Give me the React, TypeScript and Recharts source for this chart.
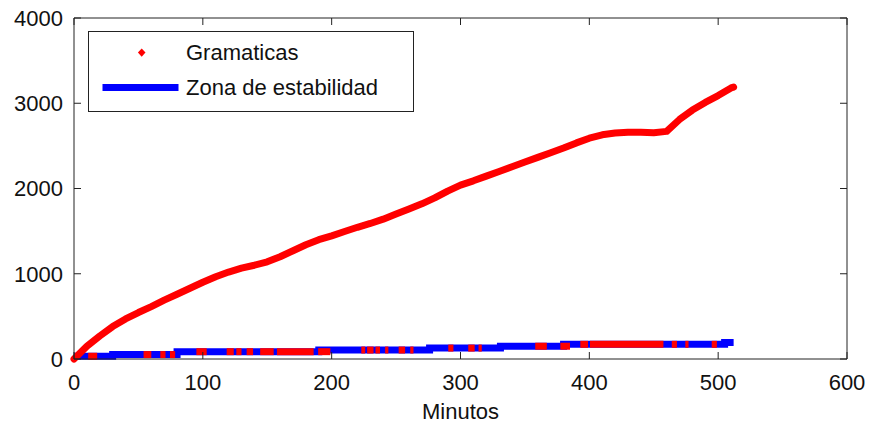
import React from 'react';
import { ComposedChart, Line, XAxis, YAxis, Legend } from 'recharts';

document.body.style.margin = '0';

const gramMinutes = [0, 10, 20, 30, 40, 50, 60, 70, 80, 90, 100, 110, 120, 130, 140, 150, 160, 170, 180, 190, 200, 210, 220, 230, 240, 250, 260, 270, 280, 290, 300, 310, 320, 330, 340, 350, 360, 370, 380, 390, 400, 410, 420, 430, 440, 450, 460, 470, 480, 490, 500, 510, 512];
const gramValues = [0, 150, 270, 380, 470, 545, 615, 690, 760, 830, 900, 965, 1020, 1065, 1100, 1140, 1200, 1270, 1340, 1400, 1445, 1495, 1545, 1590, 1640, 1700, 1760, 1820, 1890, 1970, 2040, 2090, 2145, 2200, 2255, 2310, 2365, 2420, 2475, 2535, 2590, 2630, 2650, 2660, 2660, 2655, 2670, 2810, 2920, 3010, 3090, 3180, 3190];

// zona de estabilidad: step changes (minute, value)
const zonaMinutes = [0, 30, 80, 190, 276, 331, 380, 505, 512];
const zonaValues = [32, 52, 86, 105, 128, 150, 172, 195, 195];

// red markers sitting on the stability band, [start, end] minutes
const gramLowRuns = [
  [11, 18], [54, 60], [67, 71], [74.5, 78.5], [95, 103], [118.5, 124], [126, 130], [134, 139],
  [144.5, 155], [157.5, 186], [189.5, 199], [223, 226], [227.5, 232.5], [234, 237.5], [241.5, 244],
  [252, 257], [261, 263.5], [290.5, 294.5], [306, 311], [314, 316.5], [358, 367], [377.5, 385],
  [393, 399], [400.5, 457.5], [464, 468], [474.5, 477], [495, 499],
];

const xTicks = [0, 100, 200, 300, 400, 500, 600];
const yTicks = [0, 1000, 2000, 3000, 4000];

const gramData = gramMinutes.map((t, i) => ({ t, v: gramValues[i] }));
const zonaData = zonaMinutes.map((t, i) => ({ t, v: zonaValues[i] }));

const zonaAt = (t: number) => {
  let v = zonaValues[0];
  zonaMinutes.forEach((m, i) => { if (m <= t) v = zonaValues[i]; });
  return v;
};

const font = '"Liberation Sans", Arial, sans-serif';
const tickStyle = { fill: '#111', fontSize: 22, fontFamily: font };
const blank = () => '';

function LegendBox() {
  return (
    <div style={{ position: 'relative', width: 326, height: 81, border: '1.5px solid #222', background: '#fff', boxSizing: 'border-box', fontFamily: font, fontSize: 22, color: '#111' }}>
      <svg width={326} height={81} style={{ position: 'absolute', left: -1.5, top: -1.5 }}>
        <path d="M53.7 17.5 L57.5 21.6 L53.7 25.7 L49.9 21.6 Z" fill="#ff0000" />
        <line x1={14.5} x2={90.5} y1={56.6} y2={56.6} stroke="#0000ff" strokeWidth={7} />
      </svg>
      <span style={{ position: 'absolute', left: 97, top: 8, lineHeight: '26px' }}>Gramaticas</span>
      <span style={{ position: 'absolute', left: 97, top: 43, lineHeight: '26px' }}>Zona de estabilidad</span>
    </div>
  );
}

export default function App() {
  return (
    <div style={{ width: 870, height: 426, background: '#fff' }}>
      <ComposedChart width={870} height={426} margin={{ top: 17, right: 22, left: 0, bottom: 0 }}>
        <XAxis
          xAxisId="b"
          dataKey="t"
          type="number"
          domain={[0, 600]}
          ticks={xTicks}
          height={67}
          stroke="#222"
          tick={tickStyle}
          tickSize={-7}
          tickMargin={22}
          label={{ value: 'Minutos', position: 'insideBottom', offset: 7, style: { fill: '#111', fontSize: 22, fontFamily: font } }}
        />
        <XAxis xAxisId="top" orientation="top" dataKey="t" type="number" domain={[0, 600]} ticks={xTicks} height={1} stroke="#222" tickSize={-7} tickFormatter={blank} />
        <YAxis
          yAxisId="l"
          type="number"
          domain={[0, 4000]}
          ticks={yTicks}
          width={74}
          stroke="#222"
          tick={tickStyle}
          tickSize={-7}
          tickMargin={18}
        />
        <YAxis yAxisId="r" orientation="right" type="number" domain={[0, 4000]} ticks={yTicks} width={1} stroke="#222" tickSize={-7} tickFormatter={blank} />
        <Legend verticalAlign="middle" align="center" layout="horizontal" wrapperStyle={{ top: 31, left: 88, width: 326, height: 81 }} content={() => <LegendBox />} />
        {/* invisible series so the top and right axes of the box get drawn */}
        <Line xAxisId="top" yAxisId="r" data={gramData} dataKey="v" stroke="none" dot={false} activeDot={false} isAnimationActive={false} legendType="none" />
        <Line xAxisId="b" yAxisId="l" data={zonaData} dataKey="v" type="stepAfter" stroke="#0000ff" strokeWidth={7} strokeLinecap="butt" dot={false} isAnimationActive={false} legendType="none" />
        {gramLowRuns.map(([a, b], i) => (
          <Line
            key={i}
            xAxisId="b"
            yAxisId="l"
            data={[{ t: a, v: zonaAt(a) }, { t: b, v: zonaAt(a) }]}
            dataKey="v"
            stroke="#ff0000"
            strokeWidth={7}
            strokeLinecap="butt"
            dot={false}
            isAnimationActive={false}
            legendType="none"
          />
        ))}
        <Line xAxisId="b" yAxisId="l" data={gramData} dataKey="v" type="linear" stroke="#ff0000" strokeWidth={7} strokeLinejoin="round" strokeLinecap="round" dot={false} isAnimationActive={false} />
      </ComposedChart>
    </div>
  );
}
